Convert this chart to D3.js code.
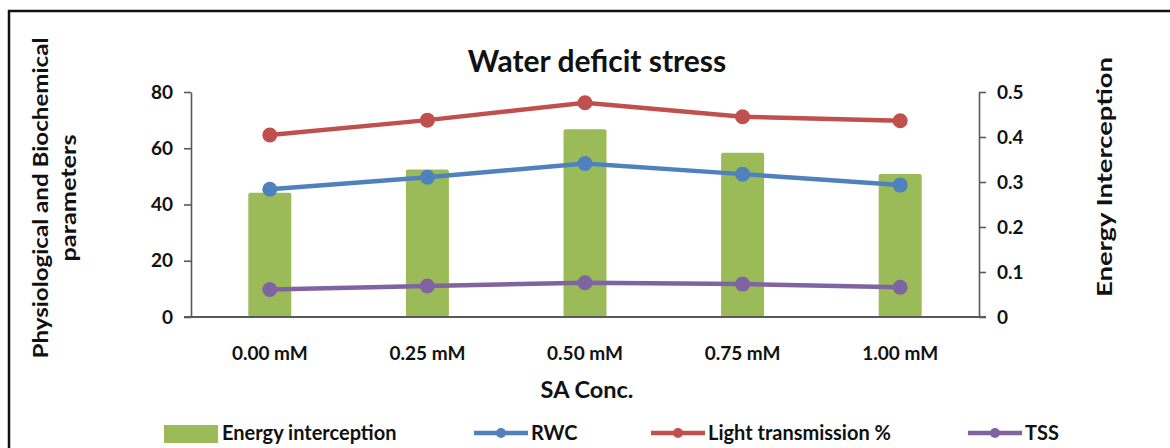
<!DOCTYPE html>
<html><head><meta charset="utf-8">
<script src="https://cdn.jsdelivr.net/npm/d3@7"></script>
<style>body{margin:0;background:#fff}svg text{font-family:Lato,"Open Sans",sans-serif;font-weight:bold;fill:#111}</style>
</head><body><svg id="c" width="1170" height="448"></svg>
<script>
const categories = ["0.00 mM","0.25 mM","0.50 mM","0.75 mM","1.00 mM"];
const energyInterception = [0.276,0.328,0.417,0.365,0.318];
const rwc = [45.4,49.7,54.6,50.8,46.9];
const lightTransmission = [64.7,70.0,76.2,71.2,69.8];
const tss = [9.8,11.0,12.2,11.7,10.6];
const leftTicks = [0,20,40,60,80];
const rightTicks = [0,0.1,0.2,0.3,0.4,0.5];
const title = "Water deficit stress";

const svg = d3.select("#c");
const L=191,R=979,T=92,B=317;
svg.append("rect").attr("x",9).attr("y",11).attr("width",1180).attr("height",460)
  .attr("fill","none").attr("stroke","#111").attr("stroke-width",2.5);

const x = d3.scaleBand().domain(categories).range([L,R]);
const yL = d3.scaleLinear().domain([0,80]).range([B,T]);
const yR = d3.scaleLinear().domain([0,0.5]).range([B,T]);

const bw = 43;
svg.append("g").selectAll("rect").data(energyInterception).join("rect")
  .attr("x",(d,i)=>x(categories[i])+x.bandwidth()/2-bw/2).attr("width",bw)
  .attr("y",d=>yR(d)).attr("height",d=>yR(0)-yR(d)).attr("rx",2)
  .attr("fill","#9BBB59");

function axStyle(g){g.selectAll("path,line").attr("stroke","#595959").attr("stroke-width",1.6);
  g.selectAll("text").attr("font-size",19).style("font-family","Lato,sans-serif").style("font-weight","bold").attr("fill","#111");}
svg.append("g").attr("transform",`translate(${L},0)`)
  .call(d3.axisLeft(yL).tickValues(leftTicks).tickSize(7).tickSizeOuter(0).tickPadding(11)).call(axStyle);
svg.append("g").attr("transform",`translate(${R},0)`)
  .call(d3.axisRight(yR).tickValues(rightTicks).tickSize(7).tickSizeOuter(0).tickPadding(11).tickFormat(d=>d===0?"0":d3.format(".1f")(d))).call(axStyle);
const xa = svg.append("g").attr("transform",`translate(0,${B})`)
  .call(d3.axisBottom(x).tickSize(0).tickPadding(30)).call(axStyle);
xa.select(".domain").remove();
svg.append("line").attr("x1",L-7).attr("x2",R+7).attr("y1",B).attr("y2",B).attr("stroke","#595959").attr("stroke-width",1.8);

const series=[{name:"RWC",v:rwc,c:"#4F81BD"},{name:"Light transmission %",v:lightTransmission,c:"#C0504D"},{name:"TSS",v:tss,c:"#8064A2"}];
const line=d3.line().x((d,i)=>x(categories[i])+x.bandwidth()/2).y(d=>yL(d));
series.forEach(s=>{
  svg.append("path").attr("d",line(s.v)).attr("fill","none").attr("stroke",s.c).attr("stroke-width",4.5);
  svg.append("g").selectAll("circle").data(s.v).join("circle")
    .attr("cx",(d,i)=>x(categories[i])+x.bandwidth()/2).attr("cy",d=>yL(d)).attr("r",7.5).attr("fill",s.c);
});

svg.append("text").attr("x",597).attr("y",72).attr("text-anchor","middle").attr("font-size",30).text(title);
svg.append("text").attr("x",587).attr("y",398).attr("text-anchor","middle").attr("font-size",23.5).text("SA Conc.");
const lt=svg.append("text").attr("transform","translate(48,198) rotate(-90)").attr("text-anchor","middle")
  .attr("font-size",20.5);
lt.append("tspan").attr("x",0).attr("dy",0).attr("textLength",321).attr("lengthAdjust","spacingAndGlyphs").text("Physiological and Biochemical");
lt.append("tspan").attr("x",0).attr("dy",28).attr("textLength",127).attr("lengthAdjust","spacingAndGlyphs").text("parameters");
svg.append("text").attr("transform","translate(1112,177) rotate(-90)").attr("text-anchor","middle")
  .attr("font-size",20.5).attr("textLength",240).attr("lengthAdjust","spacingAndGlyphs").text("Energy Interception");

// legend
const ly=433;
svg.append("rect").attr("x",164).attr("y",425).attr("width",54).attr("height",18).attr("fill","#9BBB59");
svg.append("text").attr("x",222).attr("y",ly+7).attr("font-size",20).text("Energy interception");
const lx=[474,651,968];
series.forEach((s,i)=>{
  svg.append("line").attr("x1",lx[i]).attr("x2",lx[i]+54).attr("y1",ly).attr("y2",ly).attr("stroke",s.c).attr("stroke-width",4.5);
  svg.append("circle").attr("cx",lx[i]+27).attr("cy",ly).attr("r",5).attr("fill",s.c);
  svg.append("text").attr("x",lx[i]+57).attr("y",ly+7).attr("font-size",20).text(s.name);
});
</script></body></html>
